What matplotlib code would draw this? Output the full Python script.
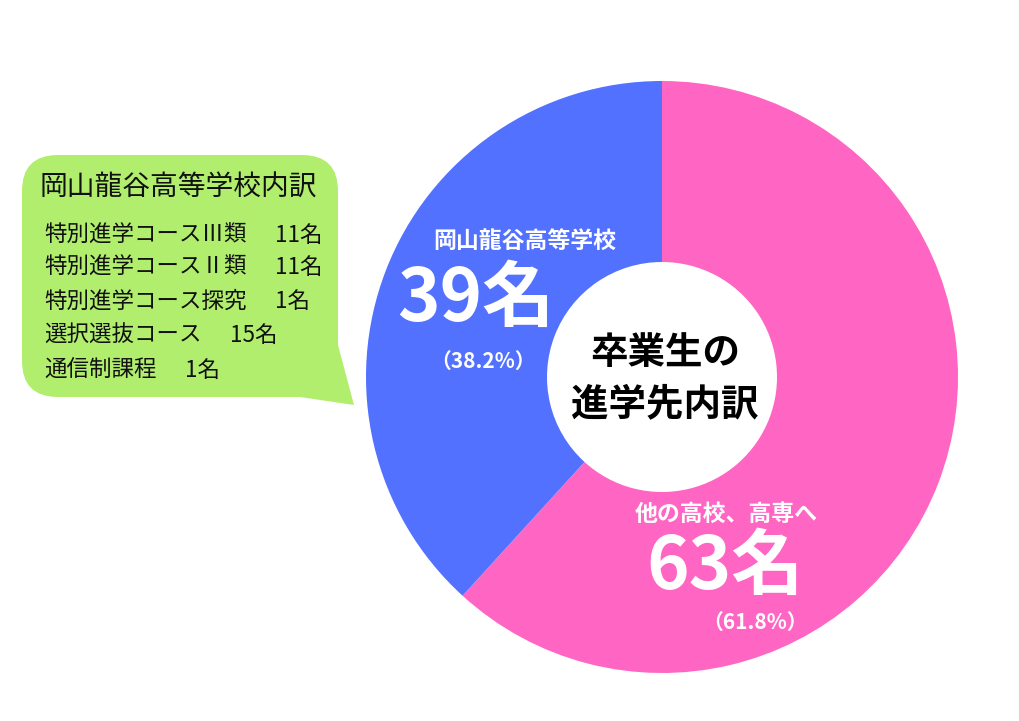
import matplotlib.pyplot as plt
from matplotlib.patches import FancyBboxPatch, Polygon

plt.rcParams['font.family'] = ['Noto Sans CJK JP', 'DejaVu Sans']

# データ
labels = ['他の高校、高専へ', '岡山龍谷高等学校']
counts = [63, 39]
percents = ['（61.8%）', '（38.2%）']
colors = ['#FF66C4', '#5271FF']

center_title = '卒業生の\n進学先内訳'

box_title = '岡山龍谷高等学校内訳'
courses = ['特別進学コースⅢ類', '特別進学コースⅡ類', '特別進学コース探究',
           '選択選抜コース', '通信制課程']
course_counts = [11, 11, 1, 15, 1]

H = 721
fig = plt.figure(figsize=(10.2, 7.21), dpi=100)
ax = fig.add_axes([0, 0, 1, 1])

# ドーナツ
cx, cy, r = 662, H - 377, 296
ax.pie(counts, colors=colors, startangle=90, counterclock=False,
       center=(cx, cy), radius=r, frame=True,
       wedgeprops=dict(width=r - 115, linewidth=0))
ax.set_xlim(0, 1020)
ax.set_ylim(0, H)
ax.set_aspect('equal')
ax.axis('off')

ax.text(cx + 3, H - 378, center_title, ha='center', va='center', fontsize=27,
        fontweight='bold', color='black', linespacing=1.4)

# 岡山龍谷
ax.text(525, H - 241, labels[1], ha='center', va='center', fontsize=16.5,
        fontweight='bold', color='white')
ax.text(476, H - 300, f'{counts[1]}名', ha='center', va='center', fontsize=52,
        fontweight='bold', color='white')
ax.text(483, H - 361, percents[1], ha='center', va='center', fontsize=15,
        fontweight='bold', color='white')

# 他の高校
ax.text(726, H - 514, labels[0], ha='center', va='center', fontsize=16.5,
        fontweight='bold', color='white')
ax.text(725, H - 568, f'{counts[0]}名', ha='center', va='center', fontsize=52,
        fontweight='bold', color='white')
ax.text(755, H - 622, percents[0], ha='center', va='center', fontsize=15,
        fontweight='bold', color='white')

# 吹き出し
green = '#B2EE6E'
box = FancyBboxPatch((22, H - 397), 316, 242,
                     boxstyle='round,pad=0,rounding_size=36',
                     facecolor=green, edgecolor='none')
ax.add_patch(box)
tail = Polygon([(326, H - 340), (338, H - 345), (354, H - 405), (300, H - 397), (300, H - 370)],
               closed=True, facecolor=green, edgecolor='none')
ax.add_patch(tail)

ax.text(40, H - 188, box_title, ha='left', va='center', fontsize=20, color='#111111')
line_y = [235, 267, 301, 335, 370]
count_x = [275, 275, 275, 230, 185]
for name, n, yy, xx in zip(courses, course_counts, line_y, count_x):
    ax.text(44, H - yy, name, ha='left', va='center', fontsize=16.2, color='#111111')
    ax.text(xx, H - yy, f'{n}名', ha='left', va='center', fontsize=16.2, color='#111111')

fig.savefig('out.png', dpi=100, facecolor='white')
